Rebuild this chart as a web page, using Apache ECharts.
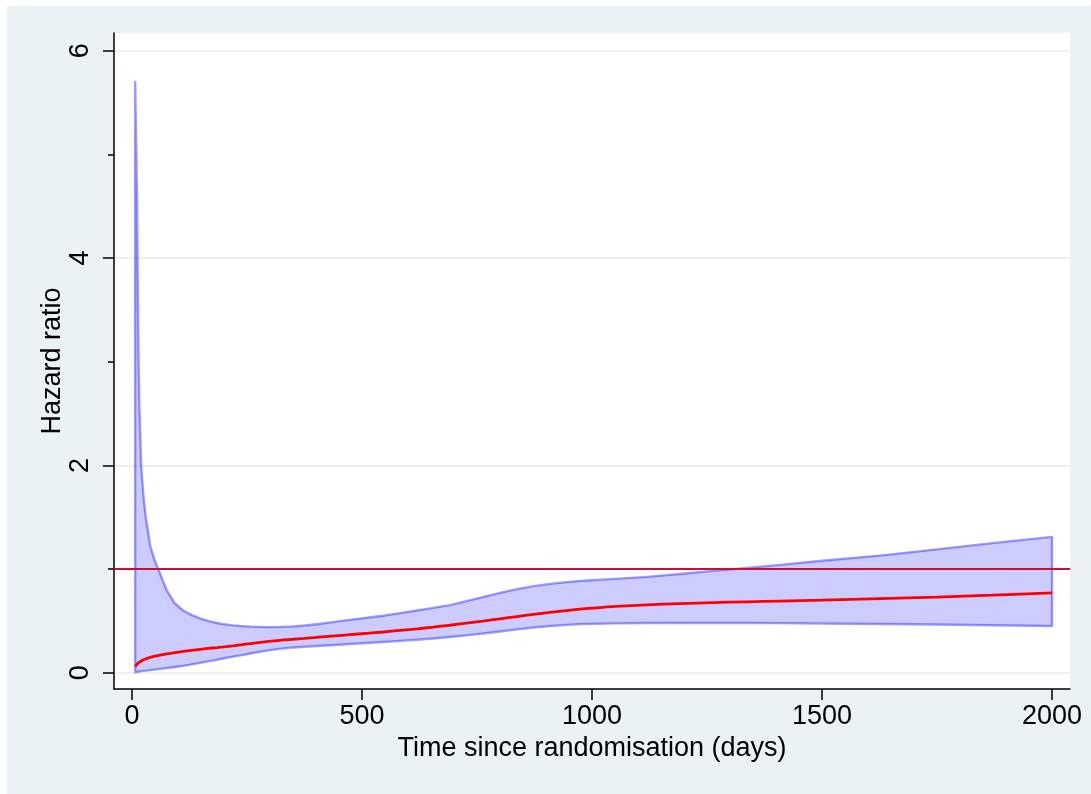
<!DOCTYPE html>
<html>
<head>
<meta charset="utf-8">
<script src="https://cdn.jsdelivr.net/npm/echarts@6/dist/echarts.min.js"></script>
<style>
html,body{margin:0;padding:0;background:#ffffff;width:1091px;height:794px;overflow:hidden;}
#chart{position:absolute;left:7px;top:6px;width:1084px;height:788px;}
</style>
</head>
<body>
<div id="chart"></div>
<script>
// Time since randomisation (days)
const days  = [7, 9, 11, 12, 13, 14, 16, 20, 25, 30, 40, 48, 57, 66, 75, 93, 111, 130, 148, 165, 185, 200, 220, 239, 257, 275, 293, 311, 330, 350, 375, 402, 440, 474, 510, 546, 583, 620, 655, 691, 727, 763, 800, 837, 873, 909, 945, 980, 1050, 1120, 1191, 1263, 1337, 1409, 1500, 1626, 1750, 1870, 2000];
// Upper confidence limit
const upper = [5.7, 5.15, 4.6, 4.1, 3.6, 3.15, 2.6, 2.0, 1.7, 1.5, 1.22, 1.1, 1.0, 0.9, 0.80, 0.67, 0.60, 0.556, 0.525, 0.50, 0.48, 0.467, 0.457, 0.45, 0.445, 0.442, 0.44, 0.44, 0.442, 0.446, 0.455, 0.468, 0.49, 0.51, 0.53, 0.55, 0.575, 0.60, 0.625, 0.652, 0.69, 0.73, 0.77, 0.806, 0.835, 0.857, 0.874, 0.887, 0.905, 0.925, 0.952, 0.982, 1.01, 1.04, 1.08, 1.13, 1.19, 1.25, 1.31];
// Lower confidence limit
const lower = [0.005, 0.006, 0.007, 0.008, 0.009, 0.01, 0.012, 0.015, 0.018, 0.02, 0.025, 0.03, 0.035, 0.04, 0.045, 0.055, 0.066, 0.08, 0.095, 0.11, 0.125, 0.14, 0.155, 0.17, 0.185, 0.20, 0.213, 0.225, 0.235, 0.243, 0.25, 0.258, 0.268, 0.277, 0.287, 0.297, 0.307, 0.318, 0.33, 0.344, 0.36, 0.378, 0.398, 0.418, 0.436, 0.451, 0.462, 0.47, 0.476, 0.479, 0.48, 0.48, 0.479, 0.478, 0.475, 0.47, 0.465, 0.458, 0.45];
// Hazard ratio estimate
const hr    = [0.06, 0.072, 0.082, 0.087, 0.091, 0.095, 0.102, 0.112, 0.124, 0.134, 0.148, 0.157, 0.166, 0.174, 0.181, 0.194, 0.205, 0.216, 0.226, 0.234, 0.243, 0.25, 0.26, 0.27, 0.28, 0.29, 0.30, 0.308, 0.316, 0.323, 0.332, 0.342, 0.355, 0.367, 0.38, 0.393, 0.408, 0.423, 0.44, 0.458, 0.478, 0.498, 0.52, 0.542, 0.563, 0.583, 0.60, 0.615, 0.64, 0.655, 0.667, 0.676, 0.684, 0.691, 0.70, 0.715, 0.73, 0.748, 0.77];
// Reference line
const refValue = 1;
// Tick labels
const xTicks = [0, 500, 1000, 1500, 2000];
const yTicks = [0, 2, 4, 6];
const yMinorTicks = [1, 3, 5];

const FONT = "'Liberation Sans', Arial, Helvetica, sans-serif";
const chart = echarts.init(document.getElementById('chart'), null, {renderer: 'canvas'});

const xMin = -39, xMax = 2039, yMin = -0.157, yMax = 6.171;
const bandStroke = 'rgba(0,0,255,0.38)';
const bandFill = 'rgba(0,0,255,0.2)';
const hrData = days.map((d, i) => [d, hr[i]]);

const option = {
  backgroundColor: '#EAF2F3',
  animation: false,
  grid: {left: 107, top: 27, right: 21, bottom: 105, show: true, backgroundColor: '#ffffff', borderWidth: 0},
  xAxis: {
    type: 'value', min: xMin, max: xMax,
    name: 'Time since randomisation (days)', nameLocation: 'middle', nameGap: 44,
    nameTextStyle: {fontFamily: FONT, fontSize: 27, color: '#000'},
    axisLine: {show: true, onZero: false, lineStyle: {color: '#000', width: 1.5}},
    axisTick: {show: true, length: 11, customValues: xTicks, lineStyle: {color: '#000', width: 1.5}},
    axisLabel: {show: true, customValues: xTicks, margin: 14, fontFamily: FONT, fontSize: 27, color: '#000',
      formatter: v => String(v)},
    splitLine: {show: false}
  },
  yAxis: [{
    type: 'value', min: yMin, max: yMax,
    name: 'Hazard ratio', nameLocation: 'middle', nameGap: 48, nameMoveOverlap: false,
    nameTextStyle: {fontFamily: FONT, fontSize: 27, color: '#000'},
    axisLine: {show: true, onZero: false, lineStyle: {color: '#000', width: 1.5}},
    axisTick: {show: true, length: 11, customValues: yTicks, lineStyle: {color: '#000', width: 1.5}},
    axisLabel: {show: true, customValues: yTicks, rotate: 90, margin: 20, fontFamily: FONT, fontSize: 27, color: '#000',
      formatter: v => String(v)},
    splitLine: {show: true, lineStyle: {color: '#EAF2F3', width: 2}}
  }, {
    type: 'value', min: yMin, max: yMax, position: 'left', offset: 0,
    axisLine: {show: false, onZero: false},
    axisTick: {show: true, length: 6, customValues: yMinorTicks, lineStyle: {color: '#000', width: 1.5}},
    axisLabel: {show: false},
    splitLine: {show: false}
  }],
  series: [
    {
      type: 'line', name: 'ref', data: [], z: 1, silent: true,
      markLine: {
        silent: true, symbol: 'none', animation: false,
        label: {show: false},
        lineStyle: {color: '#C0103C', width: 2, type: 'solid'},
        data: [{yAxis: refValue}]
      }
    },
    {
      type: 'custom', name: 'CI', z: 2, silent: true, clip: true,
      data: [[days[0], upper[0]]],
      renderItem: function (params, api) {
        const pts = [];
        for (let i = 0; i < days.length; i++) pts.push(api.coord([days[i], upper[i]]));
        for (let i = days.length - 1; i >= 0; i--) pts.push(api.coord([days[i], lower[i]]));
        return {
          type: 'polygon',
          shape: {points: pts},
          style: {fill: bandFill, stroke: bandStroke, lineWidth: 2.4, lineJoin: 'round'}
        };
      }
    },
    {
      type: 'line', name: 'HR', z: 3, silent: true,
      data: hrData, showSymbol: false, symbol: 'none', smooth: 0.2,
      lineStyle: {color: '#FF0000', width: 2.8}
    }
  ]
};
chart.setOption(option);
</script>
</body>
</html>
